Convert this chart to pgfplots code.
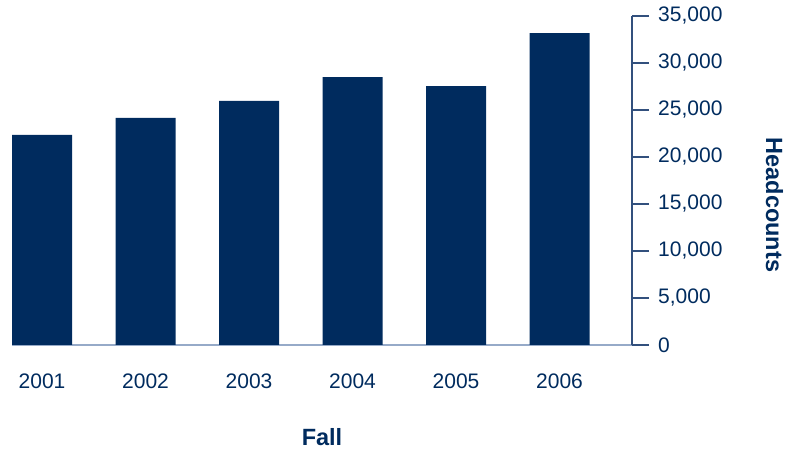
\documentclass[border=0pt]{standalone}
\usepackage{pgfplots}
\pgfplotsset{compat=1.18}
\usepackage{fontspec}
\setmainfont{Liberation Sans}
\definecolor{navy}{RGB}{0,43,94}
\definecolor{axisblue}{RGB}{50,80,125}
\definecolor{baseblue}{RGB}{150,170,200}
\begin{document}
\fontsize{21bp}{25bp}\selectfont
\begin{tikzpicture}
\useasboundingbox (0,0) rectangle (790bp,450bp);
\begin{axis}[
  at={(12bp,105bp)}, anchor=south west,
  scale only axis, width=620bp, height=329bp,
  xmin=-0.29, xmax=5.7, ymin=0, ymax=35000,
  axis y line*=right, axis x line*=bottom,
  y axis line style={draw=axisblue, line width=1.2bp},
  x axis line style={draw=baseblue, line width=1.2bp},
  ytick={0,5000,...,35000},
  ytick style={draw=axisblue, line width=1.2bp},
  major tick length=17bp, tick align=outside,
  xtick={0,...,5}, xticklabels={2001,2002,2003,2004,2005,2006},
  xtick style={draw=none},
  xticklabel style={font=\fontsize{21bp}{25bp}\selectfont, text=navy, yshift=-5bp},
  yticklabel style={font=\fontsize{21bp}{25bp}\selectfont, text=navy, xshift=2bp},
  scaled y ticks=false,
  /pgf/number format/.cd, 1000 sep={,}, assume math mode=true,
]
\addplot[ybar, bar width=60bp, fill=navy, draw=none] coordinates {
(0,22350) (1,24150) (2,25960) (3,28510) (4,27550) (5,33190)};
\end{axis}
\node[font=\bfseries\fontsize{23.5bp}{28bp}\selectfont, text=navy] at (322bp,13bp) {Fall};
\node[font=\bfseries\fontsize{23.5bp}{28bp}\selectfont, text=navy, rotate=-90] at (774.5bp,245bp) {Headcounts};
\end{tikzpicture}
\end{document}
